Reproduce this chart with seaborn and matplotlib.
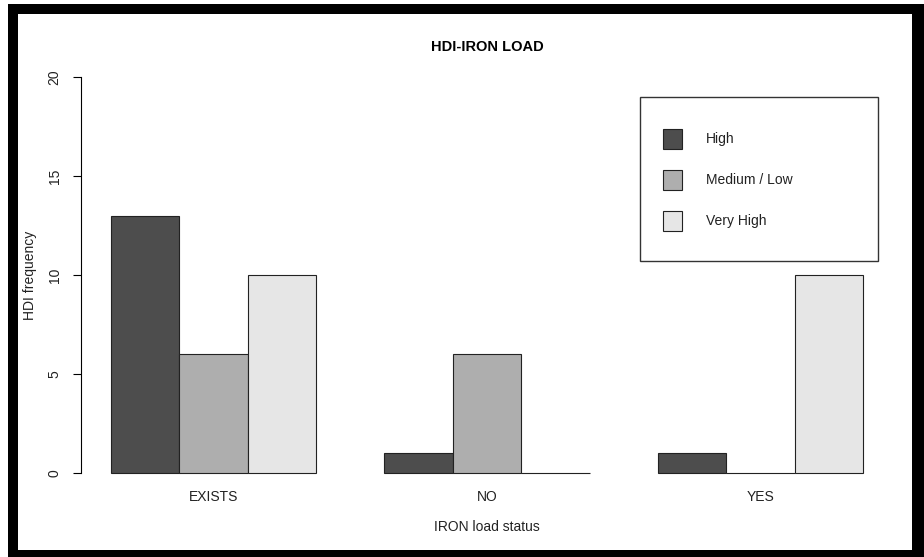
import matplotlib
matplotlib.use("Agg")
import matplotlib.pyplot as plt
import seaborn as sns
import pandas as pd
from matplotlib.patches import Rectangle

categories = ["EXISTS", "NO", "YES"]
levels = ["High", "Medium / Low", "Very High"]
high = [13, 1, 1]
medium_low = [6, 6, 0]
very_high = [10, 0, 10]
colors = ["#4D4D4D", "#AEAEAE", "#E6E6E6"]
yticks = [0, 5, 10, 15, 20]

rows = []
for lvl, vals in zip(levels, [high, medium_low, very_high]):
    for c, v in zip(categories, vals):
        rows.append({"status": c, "level": lvl, "freq": v})
df = pd.DataFrame(rows)

sns.set_theme(style="white")
plt.rcParams["font.family"] = ["Liberation Sans", "DejaVu Sans"]
plt.rcParams["text.color"] = "black"

W, H = 924, 557
fig = plt.figure(figsize=(W / 100, H / 100), dpi=100)
fig.patch.set_facecolor("white")

def fx(px):
    return px / W

def fy(py):
    return 1 - py / H

ax = fig.add_axes([fx(81), fy(489), fx(893) - fx(81), fy(61) - fy(489)])
sns.barplot(data=df, x="status", y="freq", hue="level", order=categories,
            hue_order=levels, palette=colors, width=0.75, gap=0,
            edgecolor="#222222", linewidth=0.8, saturation=1, ax=ax,
            legend=False, errorbar=None)

ax.set_xlim(-0.485, 2.485)
ax.set_ylim(-0.8, 20.8)
ax.set_yticks(yticks)
ax.set_yticklabels([str(t) for t in yticks], rotation=90, va="center")
for s in ["top", "right", "bottom"]:
    ax.spines[s].set_visible(False)
ax.spines["left"].set_bounds(0, 20)
ax.spines["left"].set_color("black")
ax.spines["left"].set_linewidth(0.8)
ax.tick_params(axis="y", length=6, width=0.8, color="black", pad=8,
               labelsize=10, left=True, labelcolor="#222222")
ax.tick_params(axis="x", length=0, pad=0.5, labelsize=10, labelcolor="#222222")
ax.set_xlabel("")
ax.set_ylabel("")
ax.set_facecolor("white")
ax.grid(False)

fig.text(fx(487), fy(47), "HDI-IRON LOAD", ha="center", va="center",
         fontsize=10.5, fontweight="bold", color="black")
fig.text(fx(487), fy(527), "IRON load status", ha="center", va="center",
         fontsize=10, color="#222222")
fig.text(fx(30), fy(275), "HDI frequency", ha="center", va="center",
         rotation=90, fontsize=10, color="#222222")

# legend box (drawn from the same level / colour lists)
fig.patches.append(Rectangle((fx(640), fy(261)), fx(878) - fx(640), fy(97) - fy(261),
                             transform=fig.transFigure, facecolor="white",
                             edgecolor="#333333", linewidth=1.0, zorder=5))
for i, (lvl, col) in enumerate(zip(levels, colors)):
    cy = 139 + 41 * i
    fig.patches.append(Rectangle((fx(663), fy(cy + 10)), fx(682) - fx(663),
                                 fy(cy - 10) - fy(cy + 10),
                                 transform=fig.transFigure, facecolor=col,
                                 edgecolor="#222222", linewidth=0.8, zorder=6))
    fig.text(fx(706), fy(cy), lvl, ha="left", va="center", fontsize=10,
             color="#222222", zorder=7)

# outer black frame
black = dict(transform=fig.transFigure, facecolor="black", edgecolor="none", zorder=10)
fig.patches.append(Rectangle((fx(8), fy(14)), 1 - fx(8), fy(4) - fy(14), **black))
fig.patches.append(Rectangle((fx(8), 0), fx(18) - fx(8), fy(4), **black))
fig.patches.append(Rectangle((fx(8), 0), 1 - fx(8), fy(550), **black))
fig.patches.append(Rectangle((fx(912), 0), 1 - fx(912), fy(4), **black))

fig.savefig("out.png", dpi=100)
